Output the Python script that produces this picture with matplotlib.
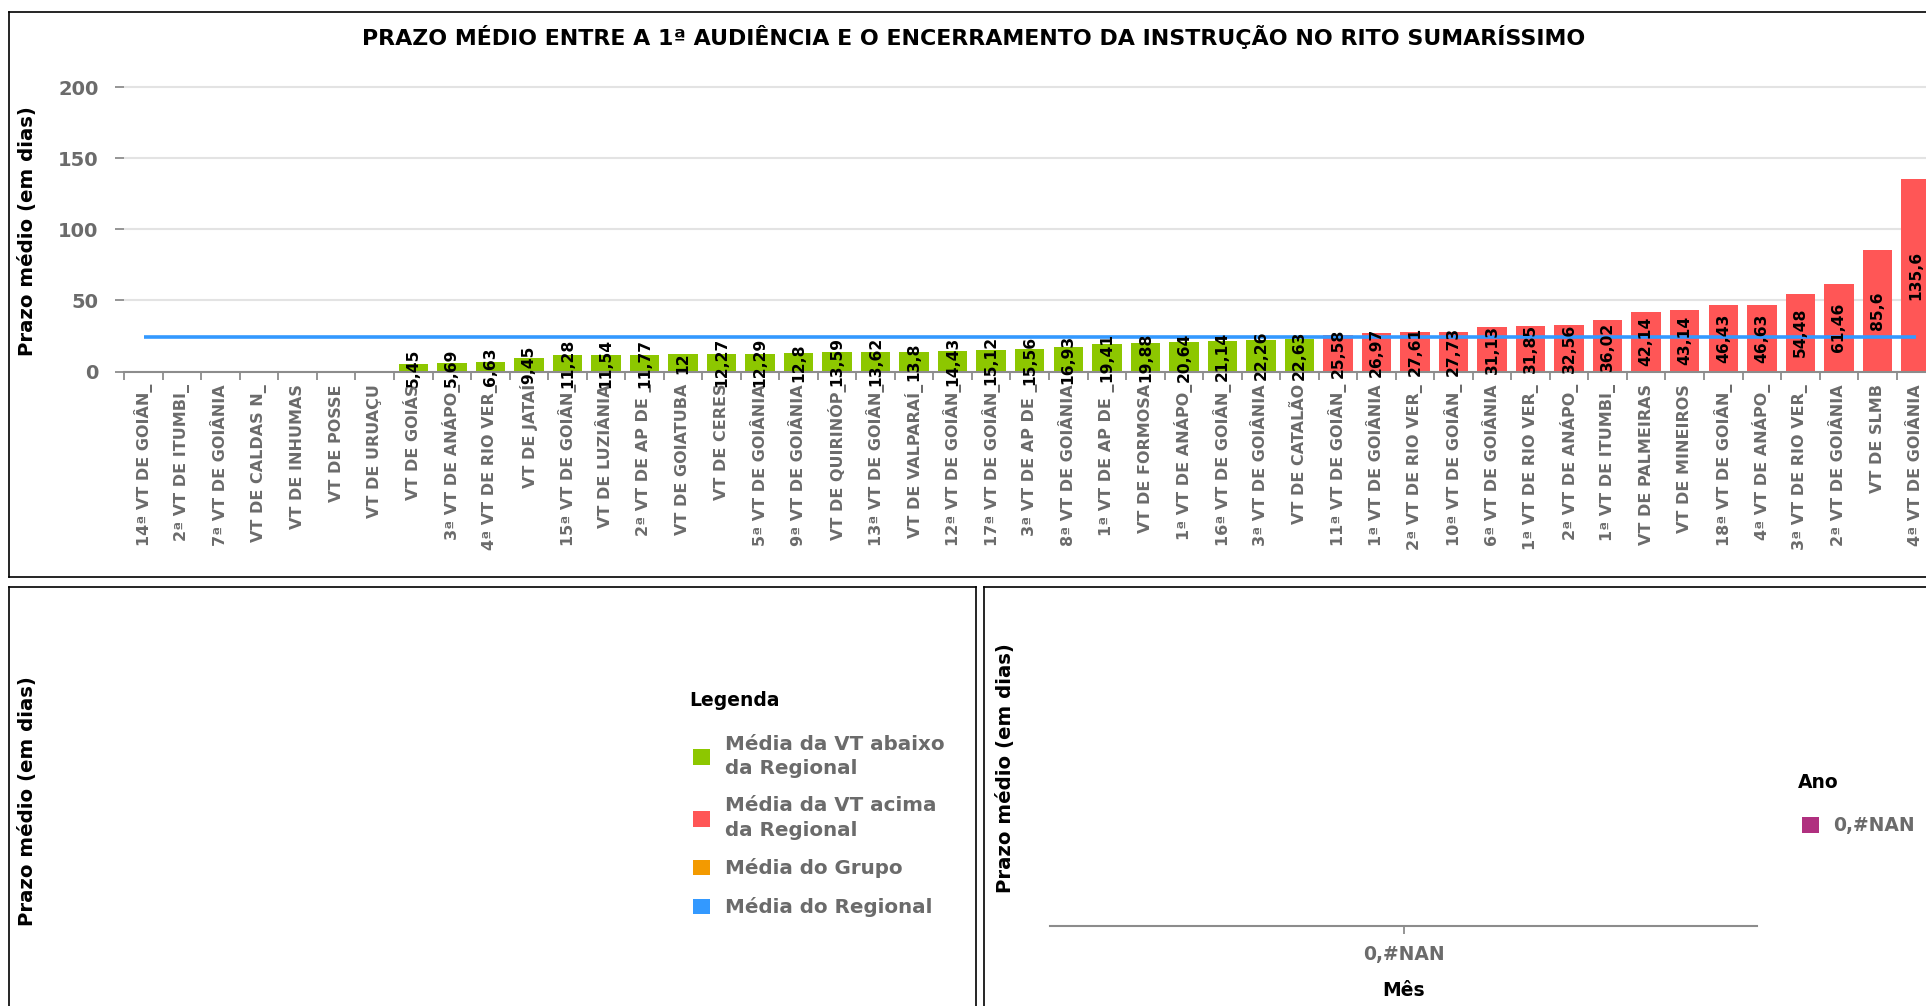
import numpy as np
import matplotlib
matplotlib.use('Agg')
import matplotlib.pyplot as plt
from matplotlib.patches import Patch

# --- DADOS ---
varas = [
    "14ª VT DE GOIÂN_", "2ª VT DE ITUMBI_", "7ª VT DE GOIÂNIA", "VT DE CALDAS N_",
    "VT DE INHUMAS", "VT DE POSSE", "VT DE URUAÇU", "VT DE GOIÁS",
    "3ª VT DE ANÁPO_", "4ª VT DE RIO VER_", "VT DE JATAÍ", "15ª VT DE GOIÂN_",
    "VT DE LUZIÂNIA", "2ª VT DE AP DE _", "VT DE GOIATUBA", "VT DE CERES",
    "5ª VT DE GOIÂNIA", "9ª VT DE GOIÂNIA", "VT DE QUIRINÓP_", "13ª VT DE GOIÂN_",
    "VT DE VALPARAÍ_", "12ª VT DE GOIÂN_", "17ª VT DE GOIÂN_", "3ª VT DE AP DE _",
    "8ª VT DE GOIÂNIA", "1ª VT DE AP DE _", "VT DE FORMOSA", "1ª VT DE ANÁPO_",
    "16ª VT DE GOIÂN_", "3ª VT DE GOIÂNIA", "VT DE CATALÃO", "11ª VT DE GOIÂN_",
    "1ª VT DE GOIÂNIA", "2ª VT DE RIO VER_", "10ª VT DE GOIÂN_", "6ª VT DE GOIÂNIA",
    "1ª VT DE RIO VER_", "2ª VT DE ANÁPO_", "1ª VT DE ITUMBI_", "VT DE PALMEIRAS",
    "VT DE MINEIROS", "18ª VT DE GOIÂN_", "4ª VT DE ANÁPO_", "3ª VT DE RIO VER_",
    "2ª VT DE GOIÂNIA", "VT DE SLMB", "4ª VT DE GOIÂNIA",
]
prazo_medio = [
    np.nan, np.nan, np.nan, np.nan, np.nan, np.nan, np.nan,
    5.45, 5.69, 6.63, 9.45, 11.28, 11.54, 11.77, 12, 12.27, 12.29, 12.8,
    13.59, 13.62, 13.8, 14.43, 15.12, 15.56, 16.93, 19.41, 19.88, 20.64,
    21.14, 22.26, 22.63, 25.58, 26.97, 27.61, 27.73, 31.13, 31.85, 32.56,
    36.02, 42.14, 43.14, 46.43, 46.63, 54.48, 61.46, 85.6, 135.6,
]
media_regional = 24.5
y_ticks = [0, 50, 100, 150, 200]

itens_legenda = ["Média da VT abaixo\nda Regional", "Média da VT acima\nda Regional",
                 "Média do Grupo", "Média do Regional"]
meses = ["0,#NAN"]
prazo_mes = [np.nan]
anos = ["0,#NAN"]

# --- ESTILO ---
COR_ABAIXO = '#8dc700'
COR_ACIMA = '#ff5656'
COR_GRUPO = '#f39a00'
COR_REGIONAL = '#3399ff'
COR_ANO = '#b0307f'
CINZA = '#6b6b6b'
CINZA_EIXO = '#8c8c8c'

W, H = 1926, 1006


def caixa(x0, y0, x1, y1):
    # converte caixa em pixels (origem no topo) para fração da figura
    return [x0 / W, 1 - y1 / H, (x1 - x0) / W, (y1 - y0) / H]


fig = plt.figure(figsize=(W / 100, H / 100), dpi=100)

# molduras dos três painéis
for pos in [caixa(9, 12, 1990, 577), caixa(9, 587, 976, 1040), caixa(984, 587, 1990, 1040)]:
    p = fig.add_axes(pos, zorder=0)
    p.set_xticks([])
    p.set_yticks([])
    for s in p.spines.values():
        s.set_linewidth(1.2)
        s.set_color('black')

# --- GRÁFICO PRINCIPAL ---
ax = fig.add_axes(caixa(124.3, 79.9, 1935.2, 371.5), zorder=1)
ax.set_facecolor('none')

x = np.arange(len(varas))
prazo = np.array(prazo_medio, dtype=float)
tem = ~np.isnan(prazo)
cores = np.where(prazo[tem] < media_regional, COR_ABAIXO, COR_ACIMA)

ax.bar(x[tem], prazo[tem], width=0.765, color=cores, zorder=2)
ax.plot([x[0], x[-1]], [media_regional, media_regional], color=COR_REGIONAL,
        linewidth=2.6, solid_capstyle='butt', zorder=3)

for xi, v in zip(x[tem], prazo[tem]):
    ax.text(xi, v / 2, f"{v:g}".replace('.', ','), rotation=90, ha='center',
            va='center', fontsize=11.2, fontweight='bold', color='black', zorder=4)

ax.set_xlim(-0.5, len(x) - 0.5)
ax.set_ylim(0, 205)
ax.set_xticks(x)
ax.set_xticklabels(varas, rotation=90, fontsize=11.5, fontweight='bold', color=CINZA)
ax.set_xticks(np.arange(len(x) + 1) - 0.5, minor=True)
ax.tick_params(axis='x', which='major', length=0, pad=9)
ax.tick_params(axis='x', which='minor', length=5.8, width=1.3, color=CINZA_EIXO)
ax.set_yticks(y_ticks)
ax.tick_params(axis='y', length=6.5, width=1.3, color=CINZA_EIXO, pad=12,
               labelsize=14, labelcolor=CINZA)
plt.setp(ax.get_yticklabels(), fontweight='bold')
ax.yaxis.grid(True, color='#e3e3e3', linewidth=1.5)
ax.set_axisbelow(True)
for lado in ['left', 'top', 'right']:
    ax.spines[lado].set_visible(False)
ax.spines['bottom'].set_color(CINZA_EIXO)
ax.spines['bottom'].set_linewidth(1.5)

fig.text(974 / W, 1 - 37 / H,
         'PRAZO MÉDIO ENTRE A 1ª AUDIÊNCIA E O ENCERRAMENTO DA INSTRUÇÃO NO RITO SUMARÍSSIMO',
         ha='center', va='center', fontsize=15.9, fontweight='bold', color='black')

# rótulos dos eixos y dos painéis
for xp, yp in [(27, 231), (27, 801), (1005, 768)]:
    fig.text(xp / W, 1 - yp / H, 'Prazo médio (em dias)', rotation=90, ha='center',
             va='center', fontsize=14.2, fontweight='bold', color='black')

# --- LEGENDA (painel inferior esquerdo) ---
fig.text(689 / W, 1 - 700 / H, 'Legenda', ha='left', va='center',
         fontsize=13.5, fontweight='bold', color='black')
leg = fig.legend(handles=[Patch(facecolor=c, edgecolor='none')
                          for c in [COR_ABAIXO, COR_ACIMA, COR_GRUPO, COR_REGIONAL]],
                 labels=itens_legenda, loc='upper left',
                 bbox_to_anchor=(693 / W, 1 - 734.5 / H), bbox_transform=fig.transFigure,
                 frameon=False, prop={'size': 14.3, 'weight': 'bold'}, labelcolor=CINZA,
                 handlelength=0.85, handleheight=0.85, handletextpad=0.75,
                 labelspacing=0.95, borderpad=0, borderaxespad=0)
for t in leg.get_texts():
    t.set_linespacing(1.34)

# --- GRÁFICO MENSAL (painel inferior direito) ---
ax2 = fig.add_axes(caixa(1050, 610, 1757, 926), zorder=1)
ax2.set_facecolor('none')
xm = np.arange(len(meses))
pm = np.array(prazo_mes, dtype=float)
ax2.bar(xm[~np.isnan(pm)], pm[~np.isnan(pm)], width=0.6, color=COR_ANO)
ax2.set_xlim(-0.5, len(meses) - 0.5)
ax2.set_ylim(0, 1)
ax2.set_xticks(xm)
ax2.set_xticklabels(meses, fontsize=13.5, fontweight='bold', color=CINZA)
ax2.tick_params(axis='x', length=5.8, width=1.3, color=CINZA_EIXO, pad=7.8)
ax2.set_yticks([])
for lado in ['left', 'top', 'right']:
    ax2.spines[lado].set_visible(False)
ax2.spines['bottom'].set_color(CINZA_EIXO)
ax2.spines['bottom'].set_linewidth(1.5)
ax2.set_xlabel('Mês', fontsize=13.5, fontweight='bold', color='black', labelpad=12)

fig.text(1798 / W, 1 - 783 / H, 'Ano', ha='left', va='center',
         fontsize=13.5, fontweight='bold', color='black')
fig.legend(handles=[Patch(facecolor=COR_ANO, edgecolor='none')], labels=anos,
           loc='upper left', bbox_to_anchor=(1802 / W, 1 - 816.5 / H),
           bbox_transform=fig.transFigure, frameon=False,
           prop={'size': 13.5, 'weight': 'bold'}, labelcolor=CINZA,
           handlelength=0.9, handleheight=0.9, handletextpad=0.75,
           borderpad=0, borderaxespad=0)

fig.savefig('out.png', dpi=100)
